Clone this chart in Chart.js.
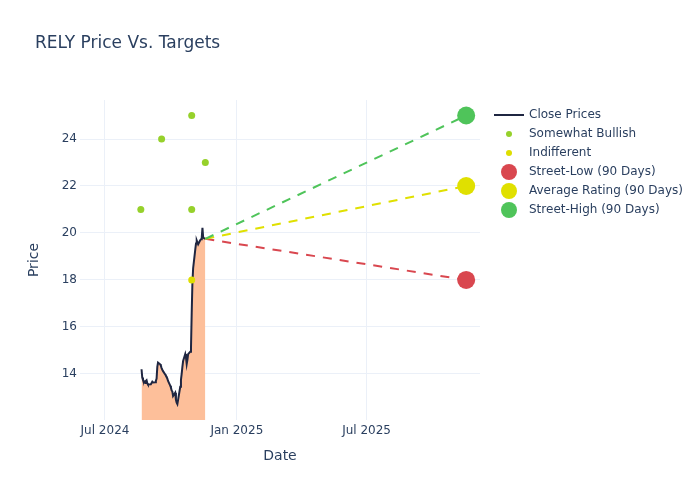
<!DOCTYPE html>
<html>
<head>
<meta charset="utf-8">
<title>RELY Price Vs. Targets</title>
<script src="https://cdn.jsdelivr.net/npm/chart.js@4.4.1/dist/chart.umd.min.js"></script>
<style>
  html, body { margin: 0; padding: 0; background: #fff; }
  canvas { display: block; }
</style>
</head>
<body>
<canvas id="chart" width="700" height="500"></canvas>
<script>
// RELY close prices + analyst ratings + 90-day targets

const closeDates = [
  '2024-08-21','2024-08-22','2024-08-23','2024-08-26','2024-08-27','2024-08-28','2024-08-29','2024-08-30',
  '2024-09-03','2024-09-04','2024-09-05','2024-09-06','2024-09-09','2024-09-10','2024-09-11','2024-09-12',
  '2024-09-13','2024-09-16','2024-09-17','2024-09-18','2024-09-19','2024-09-20','2024-09-23','2024-09-24',
  '2024-09-25','2024-09-26','2024-09-27','2024-09-30','2024-10-01','2024-10-02','2024-10-03','2024-10-04',
  '2024-10-07','2024-10-08','2024-10-09','2024-10-10','2024-10-11','2024-10-14','2024-10-15','2024-10-16',
  '2024-10-17','2024-10-18','2024-10-21','2024-10-22','2024-10-23','2024-10-24','2024-10-25','2024-10-28',
  '2024-10-29','2024-10-30','2024-10-31','2024-11-01','2024-11-04','2024-11-05','2024-11-06','2024-11-07',
  '2024-11-08','2024-11-11','2024-11-12','2024-11-13','2024-11-14','2024-11-15','2024-11-18'
];
const closeValues = [
  14.20, 13.85, 13.75, 13.62, 13.70, 13.73, 13.60, 13.55,
  13.56, 13.62, 13.67, 13.64, 13.65, 13.70, 13.80, 14.30,
  14.48, 14.41, 14.35, 14.25, 14.18, 14.12, 13.98, 13.92,
  13.88, 13.80, 13.70, 13.50, 13.42, 13.30, 13.25, 13.06,
  13.20, 12.90, 12.78, 12.72, 12.90, 13.45, 13.75, 14.00,
  14.30, 14.55, 14.85, 14.70, 14.42, 14.60, 14.84, 14.95,
  15.12, 16.60, 17.90, 18.50, 19.30, 19.55, 19.68, 19.60,
  19.52, 19.70, 19.73, 19.80, 20.22, 19.80, 19.75
];

const bullishDates = ['2024-08-20', '2024-09-18', '2024-10-30', '2024-10-30', '2024-11-18'];
const bullishValues = [21, 24, 25, 21, 23];

const indifferentDates = ['2024-10-30'];
const indifferentValues = [18];

const targetDate = '2025-11-17';
const streetLow = 18;
const averageRating = 22;
const streetHigh = 25;

const xTickDates = ['2024-07-01', '2025-01-01', '2025-07-01'];
const xTickLabels = ['Jul 2024', 'Jan 2025', 'Jul 2025'];
const yTicks = [14, 16, 18, 20, 22, 24];

const X_MIN = Date.parse('2024-05-27T03:00:00Z');
const X_MAX = Date.parse('2025-12-06T07:00:00Z');
const FONT = '"DejaVu Sans", sans-serif';
const TEXT = '#2a3f5f';
const GRID = '#ebf0f8';

const C_CLOSE = '#1f2641';
const C_FILL = '#fdbf9a';
const C_BULL = '#96d12b';
const C_INDIFF = '#dede00';
const C_LOW = '#d9474f';
const C_AVG = '#e0e000';
const C_HIGH = '#4fc45a';

function pts(dates, values) {
  return dates.map((d, i) => ({ x: Date.parse(d), y: values[i] }));
}

const lastClose = { x: Date.parse(closeDates[closeDates.length - 1]), y: closeValues[closeValues.length - 1] };
const tX = Date.parse(targetDate);

function targetLine(value, color) {
  return {
    data: [lastClose, { x: tX, y: value }],
    borderColor: color, borderWidth: 2, borderDash: [9, 8],
    pointRadius: 0, showLine: true, fill: false, order: 2
  };
}

const datasets = [
  { label: 'Street-High (90 Days)', data: [{ x: tX, y: streetHigh }], backgroundColor: C_HIGH, borderWidth: 0,
    pointRadius: 9, showLine: false, order: 0, legend: { kind: 'dot', r: 8, color: C_HIGH, pos: 5 } },
  { label: 'Average Rating (90 Days)', data: [{ x: tX, y: averageRating }], backgroundColor: C_AVG, borderWidth: 0,
    pointRadius: 9, showLine: false, order: 0, legend: { kind: 'dot', r: 8, color: C_AVG, pos: 4 } },
  { label: 'Street-Low (90 Days)', data: [{ x: tX, y: streetLow }], backgroundColor: C_LOW, borderWidth: 0,
    pointRadius: 9, showLine: false, order: 0, legend: { kind: 'dot', r: 8, color: C_LOW, pos: 3 } },
  { label: 'Indifferent', data: pts(indifferentDates, indifferentValues), backgroundColor: C_INDIFF, borderWidth: 0,
    pointRadius: 3.5, showLine: false, order: 1, legend: { kind: 'dot', r: 3, color: C_INDIFF, pos: 2 } },
  { label: 'Somewhat Bullish', data: pts(bullishDates, bullishValues), backgroundColor: C_BULL, borderWidth: 0,
    pointRadius: 3.5, showLine: false, order: 1, legend: { kind: 'dot', r: 3, color: C_BULL, pos: 1 } },
  targetLine(streetHigh, C_HIGH),
  targetLine(averageRating, C_AVG),
  targetLine(streetLow, C_LOW),
  { label: 'Close Prices', data: pts(closeDates, closeValues), borderColor: C_CLOSE, borderWidth: 2,
    backgroundColor: C_FILL, fill: 'start', pointRadius: 0, tension: 0, showLine: true, order: 3,
    legend: { kind: 'line', color: C_CLOSE, pos: 0 } }
];

// titles + plotly-style legend drawn on top of the canvas
const decorations = {
  id: 'decorations',
  afterDraw(chart) {
    const ctx = chart.ctx;
    const area = chart.chartArea;
    ctx.save();
    ctx.fillStyle = TEXT;
    ctx.textBaseline = 'middle';

    ctx.font = '17px ' + FONT;
    ctx.textAlign = 'left';
    ctx.fillText('RELY Price Vs. Targets', 35, 44);

    ctx.font = '14px ' + FONT;
    ctx.textAlign = 'center';
    ctx.fillText('Date', (area.left + area.right) / 2, 456);
    ctx.save();
    ctx.translate(34, (area.top + area.bottom) / 2);
    ctx.rotate(-Math.PI / 2);
    ctx.fillText('Price', 0, 0);
    ctx.restore();

    ctx.font = '12px ' + FONT;
    ctx.textAlign = 'left';
    const items = chart.data.datasets.filter(d => d.legend).sort((a, b) => a.legend.pos - b.legend.pos);
    items.forEach((d, i) => {
      const y = 115 + i * 19;
      if (d.legend.kind === 'line') {
        ctx.strokeStyle = d.legend.color;
        ctx.lineWidth = 2;
        ctx.beginPath();
        ctx.moveTo(494, y);
        ctx.lineTo(524, y);
        ctx.stroke();
      } else {
        ctx.fillStyle = d.legend.color;
        ctx.beginPath();
        ctx.arc(509, y, d.legend.r, 0, Math.PI * 2);
        ctx.fill();
      }
      ctx.fillStyle = TEXT;
      ctx.fillText(d.label, 529, y);
    });
    ctx.restore();
  }
};

new Chart(document.getElementById('chart'), {
  type: 'scatter',
  data: { datasets },
  plugins: [decorations],
  options: {
    responsive: false,
    animation: false,
    layout: { padding: { top: 100, right: 220, bottom: 0, left: 0 } },
    plugins: {
      legend: { display: false },
      tooltip: { enabled: false },
      title: { display: false }
    },
    scales: {
      x: {
        type: 'linear',
        min: X_MIN,
        max: X_MAX,
        afterBuildTicks: s => { s.ticks = xTickDates.map(d => ({ value: Date.parse(d) })); },
        afterFit: s => { s.height = 80; },
        ticks: {
          color: TEXT, font: { family: FONT, size: 12 }, padding: 4, maxRotation: 0,
          callback: v => xTickLabels[xTickDates.findIndex(d => Date.parse(d) === v)]
        },
        grid: { color: GRID, lineWidth: 1, drawTicks: false },
        border: { display: false }
      },
      y: {
        min: 12.04,
        max: 25.66,
        afterBuildTicks: s => { s.ticks = yTicks.map(v => ({ value: v })); },
        afterFit: s => { s.width = 80; },
        ticks: { color: TEXT, font: { family: FONT, size: 12 }, padding: 3 },
        grid: { color: GRID, lineWidth: 1, drawTicks: false },
        border: { display: false }
      }
    }
  }
});
</script>
</body>
</html>
